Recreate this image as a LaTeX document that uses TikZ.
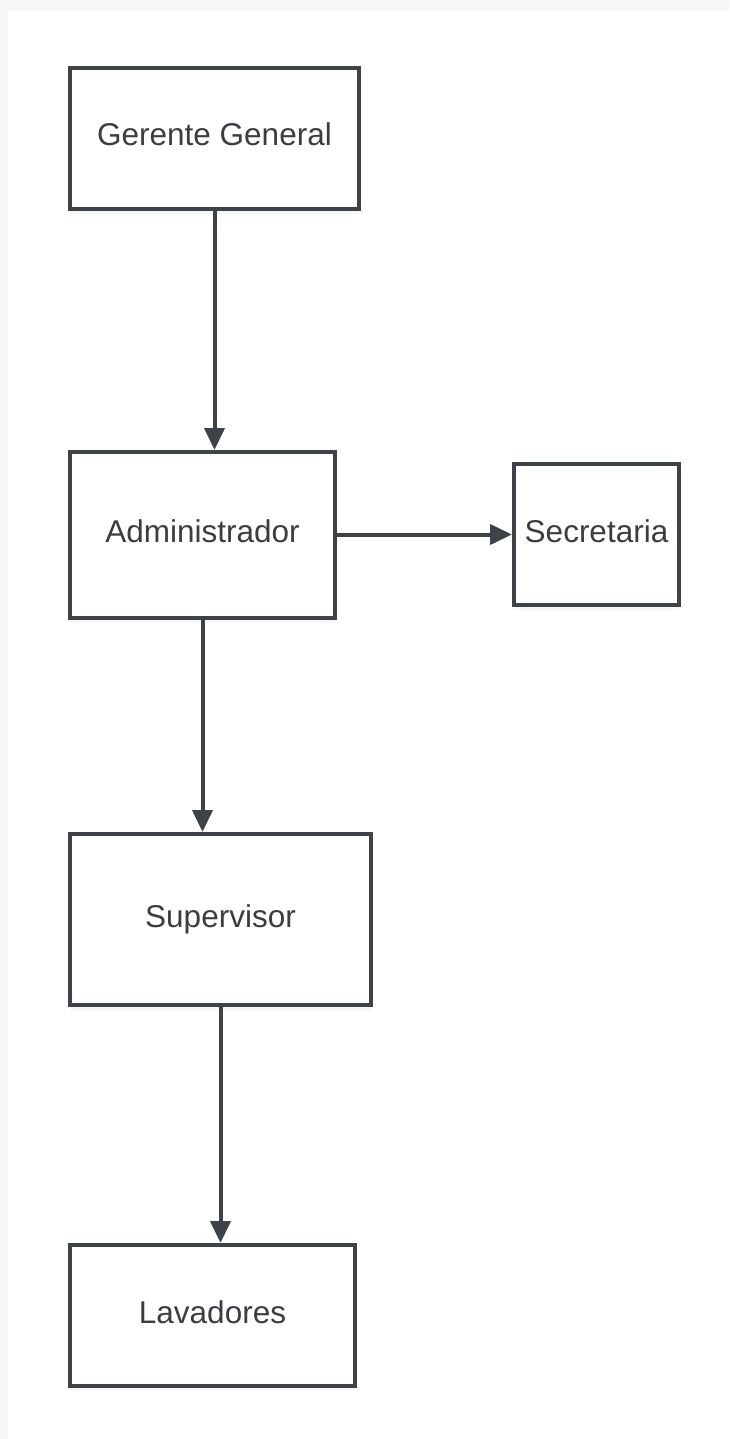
\documentclass[tikz,border=0pt]{standalone}
\usepackage{fontspec}
\setmainfont{Liberation Sans}
\usetikzlibrary{arrows.meta,shadows}
\definecolor{edge}{HTML}{3E4349}
\definecolor{txt}{HTML}{3A3D42}
\definecolor{pageshade}{HTML}{F6F6F6}
\begin{document}
\begin{tikzpicture}[x=1pt,y=-1pt,
  box/.style={draw=edge, line width=4pt, fill=white, rectangle, inner sep=0pt,
    text=txt, font=\fontsize{31.5}{38}\selectfont, text height=23pt, text depth=8pt,
    drop shadow={opacity=0.07, shadow xshift=0pt, shadow yshift=-5pt}},
  link/.style={draw=edge, line width=4pt, -{Triangle[length=22pt,width=20pt]}}]
  % page and faint edge shading
  \fill[pageshade] (0,0) rectangle (729,1439);
  \fill[white] (8,10) rectangle (729,1439);
  \useasboundingbox (0,0) rectangle (729,1439);
  % nodes
  \node[box, minimum width=289pt, minimum height=141pt] (gg) at (214.5,138.5) {Gerente General};
  \node[box, minimum width=265pt, minimum height=166pt] (ad) at (202.5,535) {Administrador};
  \node[box, minimum width=165pt, minimum height=141pt] (se) at (596.5,534.5) {Secretaria};
  \node[box, minimum width=301pt, minimum height=171pt] (su) at (220.5,919.5) {Supervisor};
  \node[box, minimum width=285pt, minimum height=141pt] (la) at (212.5,1315.5) {Lavadores};
  % connectors
  \draw[link] (gg.south) -- (gg.south |- ad.north);
  \draw[link] (se.west -| ad.east) -- (se.west);
  \draw[link] (ad.south) -- (ad.south |- su.north);
  \draw[link] (su.south) -- (su.south |- la.north);
\end{tikzpicture}
\end{document}
